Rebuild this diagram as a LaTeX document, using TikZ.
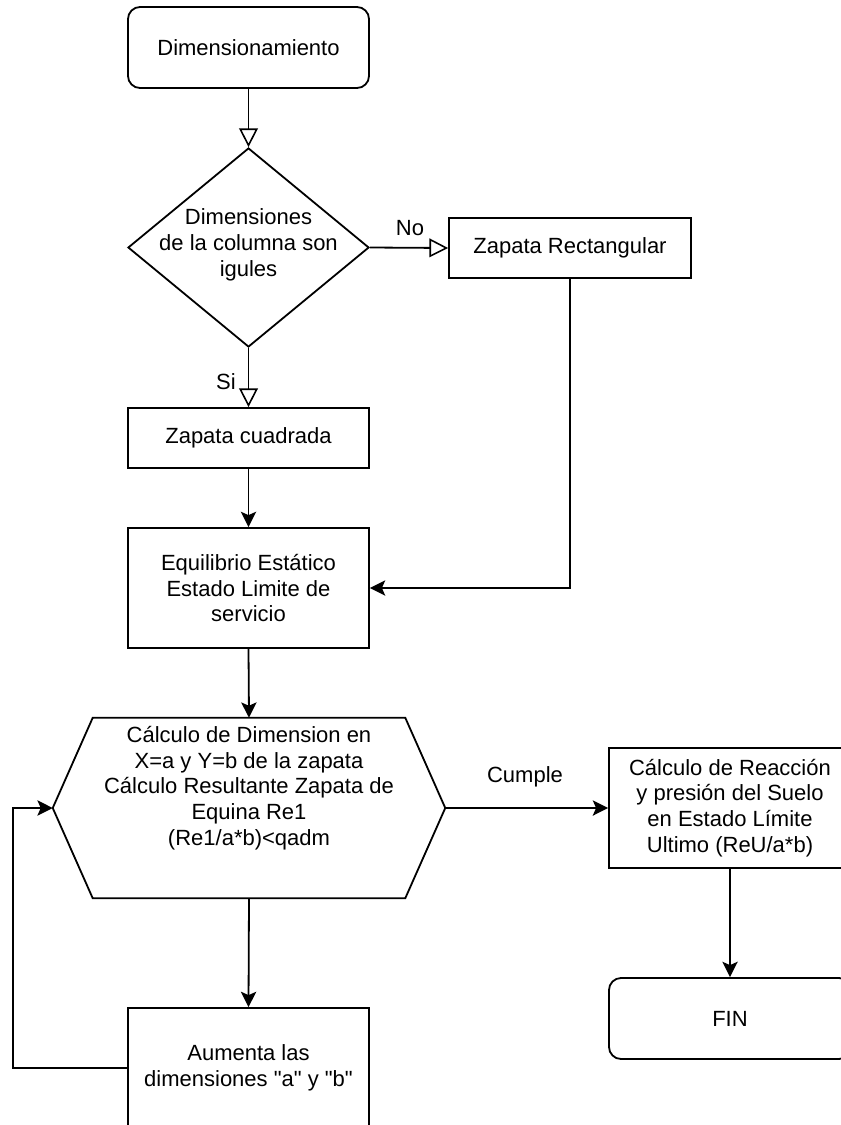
\documentclass[tikz,border=0pt]{standalone}
\usepackage{fontspec}
\setmainfont{Liberation Sans}
\usetikzlibrary{arrows.meta,shapes.geometric,calc}
% one drawing unit = 1px = 0.75pt, y grows downwards
\def\pxu{0.75pt}
\begin{document}
\begin{tikzpicture}[x=0.75pt,y=-0.75pt,
  every node/.style={font=\fontsize{16.5pt}{19.3pt}\selectfont, align=center, inner sep=0pt},
  stroke/.style={line width=1.35pt},
  procbox/.style={draw, stroke, minimum width=241*\pxu},
  termbox/.style={procbox, rounded corners=12*\pxu, minimum height=81*\pxu},
  openarr/.style={stroke, -{Triangle[open, length=14pt, width=14pt, line width=1.2pt]}},
  fillarr/.style={stroke, -{Stealth[length=11.5pt, width=11.5pt, inset=2.5pt]}},
  edgelabel/.style={font=\fontsize{16.5pt}{19.3pt}\selectfont}]
\path[use as bounding box] (0,0) rectangle (841,1125);
\clip (0,0) rectangle (841,1125);

% start / decision
\node[termbox] (start) at (248.5,47.5) {Dimensionamiento};
\node[draw, stroke, diamond, minimum width=241*\pxu, minimum height=199*\pxu] (dec) at (248.5,247.5) {};
\node (dectext) at (248.5,245) {Dimensiones\\de la columna son\\igules};

% the two footing types
\node[procbox, minimum width=242*\pxu, minimum height=60*\pxu] (rect) at (570,248) {Zapata Rectangular};
\node[procbox, minimum height=60*\pxu] (square) at (248.5,438) {Zapata cuadrada};

% service-limit equilibrium
\node[procbox, minimum height=120*\pxu] (equi) at (248.5,588) {Equilibrio Estático\\Estado Limite de\\servicio};

% dimension check (hexagon drawn over a named frame)
\node[minimum width=392*\pxu, minimum height=180*\pxu] (hex) at (249,808) {};
\draw[stroke] ($(hex.north west)+(40,0)$) -- ($(hex.north east)+(-40,0)$) -- (hex.east)
  -- ($(hex.south east)+(-40,0)$) -- ($(hex.south west)+(40,0)$) -- (hex.west) -- cycle;
\node (hextext) at (249,788) {Cálculo de Dimension en\\X=a y Y=b de la zapata\\Cálculo Resultante Zapata de\\Equina Re1\\(Re1/a*b)<qadm};

% ultimate-limit reaction and end
\node[procbox, minimum width=242*\pxu, minimum height=120*\pxu] (reac) at (730,808) {Cálculo de Reacción\\y presión del Suelo\\en Estado Límite\\Ultimo (ReU/a*b)};
\node[termbox, minimum width=242*\pxu] (fin) at (730,1018.5) {FIN};

% enlarge dimensions
\node[procbox, minimum height=120*\pxu] (aum) at (248.5,1068) {Aumenta las\\dimensiones \textquotedbl a\textquotedbl{} y \textquotedbl b\textquotedbl};
\coordinate (loop) at (13,1068);

% connectors
\draw[openarr] (start) -- (dec);
\draw[openarr] (dec.east) -- (rect.west);
\draw[openarr] (dec.south) -- (square.north);
\draw[fillarr] (square) -- (equi);
\draw[fillarr] (rect.south) |- (equi.east);
\draw[fillarr] (equi.south) -- (hex.north);
\draw[fillarr] (hex.east) -- (reac.west);
\draw[fillarr] (reac) -- (fin);
\draw[fillarr] (hex.south) -- (aum.north);
\draw[fillarr] (aum.west) -- (loop) |- (hex.west);

% branch labels
\node[edgelabel] (lno) at (410,228) {No};
\node[edgelabel] (lsi) at (226,382) {Si};
\node[edgelabel] (lcumple) at (525,777) {Cumple};
\end{tikzpicture}
\end{document}
